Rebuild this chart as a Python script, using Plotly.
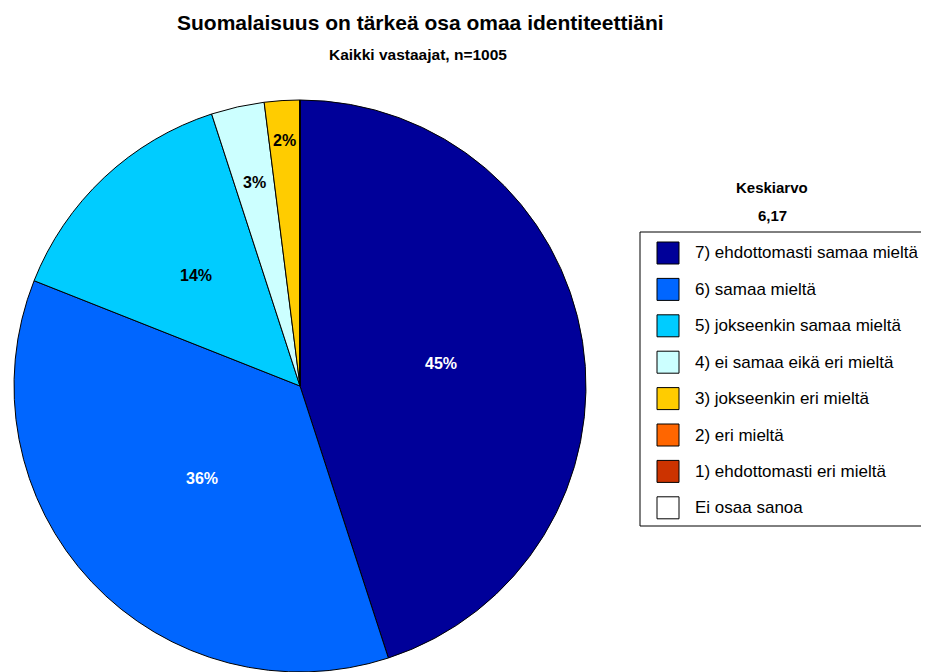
import math
import plotly.graph_objects as go

labels = ["7) ehdottomasti samaa mieltä", "6) samaa mieltä", "5) jokseenkin samaa mieltä",
          "4) ei samaa eikä eri mieltä", "3) jokseenkin eri mieltä", "2) eri mieltä",
          "1) ehdottomasti eri mieltä", "Ei osaa sanoa"]
values = [45, 36, 14, 3, 2, 0, 0, 0]
colors = ["#000099", "#0066FF", "#00CCFF", "#CCFFFF", "#FFCC00", "#FF6600", "#CC3300", "#FFFFFF"]
text_colors = ["white", "white", "black", "black", "black", "black", "white", "black"]
title = "Suomalaisuus on tärkeä osa omaa identiteettiäni"
subtitle = "Kaikki vastaajat, n=1005"
mean_label = "Keskiarvo"
mean_value = "6,17"

# page is offset by the default 8px body margin
OFF = 8
W, H = 929 - OFF, 672 - OFF
FONT = "Arial, Liberation Sans, sans-serif"

def px(x):
    return (x - OFF) / W

def py(y):
    return 1 - (y - OFF) / H

# pie geometry (page pixels)
CX, CY, R = 300, 386, 286
label_radius = [0.50, 0.47, 0.53, 0.73, 0.86, 0.9, 0.9, 0.9]

fig = go.Figure()
fig.add_trace(go.Pie(
    labels=labels, values=values, sort=False, direction="clockwise", rotation=0,
    marker=dict(colors=colors, line=dict(color="black", width=1)),
    textinfo="none", showlegend=False, hoverinfo="label+percent",
    domain=dict(x=[px(CX - R), px(CX + R)], y=[py(CY + R), py(CY - R)]),
))

shapes = []
annotations = [
    dict(text=f"<b>{title}</b>", x=px(420), y=py(22), xref="paper", yref="paper",
         showarrow=False, font=dict(family=FONT, size=21, color="black"), xanchor="center", yanchor="middle"),
    dict(text=f"<b>{subtitle}</b>", x=px(418), y=py(55), xref="paper", yref="paper",
         showarrow=False, font=dict(family=FONT, size=15.5, color="black"), xanchor="center", yanchor="middle"),
    dict(text=f"<b>{mean_label}</b>", x=px(772), y=py(187), xref="paper", yref="paper",
         showarrow=False, font=dict(family=FONT, size=15, color="black"), xanchor="center", yanchor="middle"),
    dict(text=f"<b>{mean_value}</b>", x=px(772), y=py(215), xref="paper", yref="paper",
         showarrow=False, font=dict(family=FONT, size=15, color="black"), xanchor="center", yanchor="middle"),
]

# percentage labels placed from the data angles
total = sum(values)
cum = 0
for v, tc, rf in zip(values, text_colors, label_radius):
    if v > 0:
        theta = 2 * math.pi * (cum + v / 2) / total
        lx = CX + rf * R * math.sin(theta)
        ly = CY - rf * R * math.cos(theta)
        annotations.append(dict(text=f"<b>{v}%</b>", x=px(lx), y=py(ly), xref="paper", yref="paper",
                                showarrow=False, font=dict(family=FONT, size=16, color=tc),
                                xanchor="center", yanchor="middle"))
    cum += v

# legend box
shapes.append(dict(type="rect", xref="paper", yref="paper", x0=px(640), x1=px(940), y0=py(526), y1=py(232),
                   line=dict(color="black", width=1), fillcolor="white", layer="below"))
top, step = 253, 36.4
for i, (lab, col) in enumerate(zip(labels, colors)):
    cy = top + i * step
    shapes.append(dict(type="rect", xref="paper", yref="paper", x0=px(657), x1=px(679),
                       y0=py(cy + 11), y1=py(cy - 11), line=dict(color="black", width=1), fillcolor=col))
    annotations.append(dict(text=lab, x=px(693), y=py(cy), xref="paper", yref="paper", showarrow=False,
                            font=dict(family=FONT, size=17, color="black"), xanchor="left", yanchor="middle"))

fig.update_layout(
    width=W, height=H, margin=dict(l=0, r=0, t=0, b=0),
    paper_bgcolor="white", plot_bgcolor="white",
    shapes=shapes, annotations=annotations,
)
fig.write_html("out.html")
